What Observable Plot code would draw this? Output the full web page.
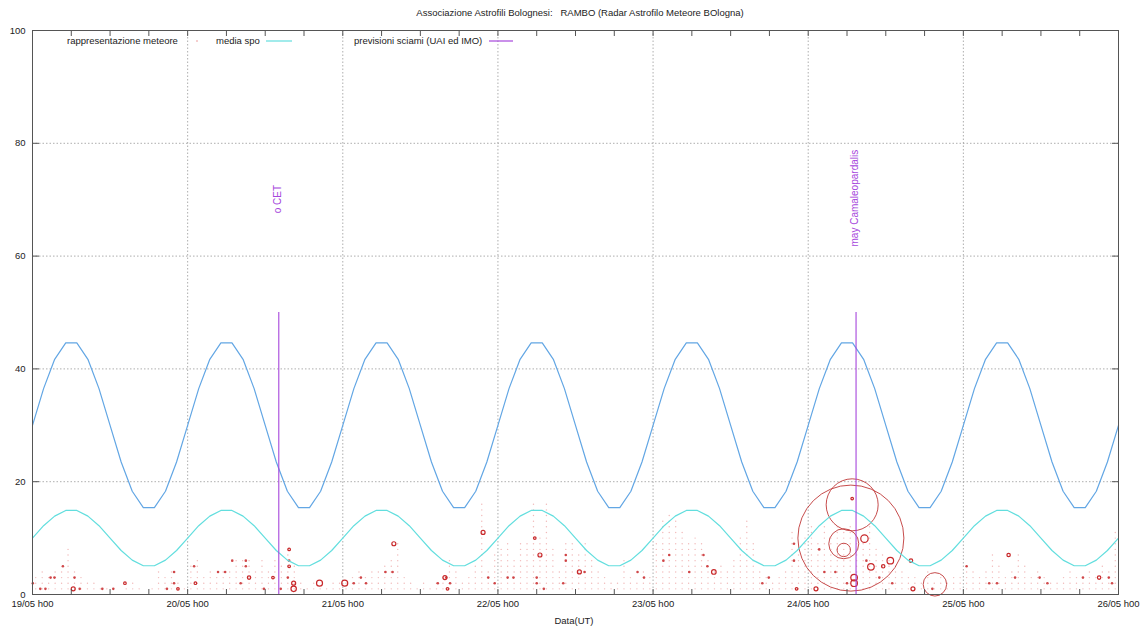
<!DOCTYPE html>
<html><head><meta charset="utf-8">
<script src="https://cdn.jsdelivr.net/npm/d3@7"></script>
<script src="https://cdn.jsdelivr.net/npm/@observablehq/plot@0.6"></script>
<style>body{margin:0;background:#fff;} svg{display:block;}</style>
</head><body><div id="chart"></div>
<script>
// ---------- DATA ----------
const title = "Associazione Astrofili Bolognesi:   RAMBO (Radar Astrofilo Meteore BOlogna)";
const xLabel = "Data(UT)";
const dayLabels = ["19/05 h00","20/05 h00","21/05 h00","22/05 h00","23/05 h00","24/05 h00","25/05 h00","26/05 h00"];
const yTicks = [0, 20, 40, 60, 80, 100];
const gridYValues = [20, 40, 60, 80];
const legendLabels = ["rappresentazione meteore", "media spo", "previsioni sciami (UAI ed IMO)"];

// daily profile sampled 14 times per day (hours from 00 UT)
const profileSamplesPerDay = 14;
const mediaSpoProfile = [10, 12.2, 13.9, 14.9, 14.9, 13.9, 12.2, 10, 7.8, 6.1, 5.1, 5.1, 6.1, 7.8];
const upperProfile   = [30, 36.5, 41.7, 44.6, 44.6, 41.7, 36.5, 30, 23.5, 18.3, 15.4, 15.4, 18.3, 23.5];

// shower predictions (hours since 19/05 h00)
const showerNames = ["o CET", "may Camaleopardalis"];
const showerHours = [38.1, 127.4];
const showerTop = [50, 50];
const showerLabelY = [67.6, 61.7];

// meteors per hour (hours 0..167 since 19/05 h00)
const hourlyCounts = [
  3,4,3,4,4,8,4,3,2,2,1,1,1,0,1,2,1,0,1,4,3,4,2,1,
  5,6,3,4,3,4,4,6,6,6,4,6,4,6,5,8,5,2,1,2,1,1,2,2,
  2,3,4,3,4,4,5,6,9,3,2,1,2,1,2,3,6,4,2,3,5,16,4,7,
  8,9,6,9,9,16,10,16,8,4,9,9,7,9,6,4,3,2,2,6,3,2,4,3,
  9,13,14,13,11,9,10,9,6,4,5,4,6,10,13,9,4,3,2,3,4,11,8,10,
  12,9,12,10,12,11,12,10,9,12,8,7,6,5,4,3,3,2,4,2,3,2,3,3,
  5,4,3,4,7,5,3,4,7,5,3,4,3,2,2,3,4,3,2,4,3,5,4,11
];

// brighter meteors [hour, level]
const brightH = [0.05,1.2,2,2.8,3.4,4.7,6.5,7.3,10.8,12.5,20.8,21.9,21.9,25,28.7,29.8,30.9,33,33,32.2,35.8,38.4,39.5,39.7,
  49.7,50.8,51.6,54.6,55.7,62.7,64,64.6,70.5,71.5,73.5,74.4,78,78,79.1,82.1,82.5,82.5,85.4,93.6,94.6,97.6,98.5,101.6,103.8,104.4,
  112.9,113.9,117.8,117.8,121.7,122.5,124.2,126,129,131,133,139.2,144.5,148,149.2,152,155.8,157,162.5,166.5,167];
const brightV = [2,1,1,3,3,5,3,1,1,1,1,4,2,5,4,4,6,6,5,2,1,1,3,6,
  2,3,2,4,4,2,3,2,3,2,3,3,3,2,1,2,7,6,4,4,3,6,7,4,7,5,
  2,3,9,6,8,4,4,2,6,3,2,1,5,2,2,3,3,2,3,3,2];

// meteor echoes drawn as circles: hour, level, echo size
const echoH = [126.6,126.8,125.5,125.5,128.7,132.7,129.7,131.6,135.9,127.1,127.1,139.6,121.2,118.2,136.2,126.8,151.0,165.0,
  6.3,14.3,22.5,25.2,33.5,37.2,39.7,39.7,40.4,40.4,44.4,48.3,55.9,63.8,64.2,69.7,77.7,78.5,84.6,105.4];
const echoV = [10.0,15.9,9.0,7.9,9.9,6,4.9,5,6,3,2,1.8,1,1,1,17,7,3,
  1,2,1,2,3,3,8,5,2,1,2,2,9,3,1,11,10,7,4,4];
const echoSize = [53,26,15,6.7,3.7,3.3,3.3,1.7,1.7,3.3,3.3,11.7,2,1.3,2,1.3,1.7,1.7,
  2,1.3,1.3,1.3,1.7,1.3,1.3,1.3,2,2.7,3,3,2,2,1.3,2,1.3,2,2,2.3];

// ---------- BUILD TABLES ----------
const stepH = 24 / profileSamplesPerDay;
const spo = [], upper = [];
for (let d = 0; d < 7; d++) {
  for (let k = 0; k < profileSamplesPerDay; k++) {
    spo.push({h: d * 24 + k * stepH, v: mediaSpoProfile[k]});
    upper.push({h: d * 24 + k * stepH, v: upperProfile[k]});
  }
}
spo.push({h: 168, v: mediaSpoProfile[0]});
upper.push({h: 168, v: upperProfile[0]});

const showers = showerNames.map((n, i) => ({name: n, h: showerHours[i], top: showerTop[i], ly: showerLabelY[i]}));
const faint = [];
hourlyCounts.forEach((c, h) => { for (let j = 1; j <= c; j++) faint.push({h: h + 0.5, v: j}); });
const bright = brightH.map((h, i) => ({h, v: brightV[i]}));
const echoes = echoH.map((h, i) => ({h, v: echoV[i], s: echoSize[i]}));
const echoSmall = echoes.filter(d => d.s < 5);
const echoLarge = echoes.filter(d => d.s >= 5);

const dayHours = dayLabels.map((_, i) => i * 24);
const sixHours = d3.range(0, 169, 6);

const blue = "#62a6e4", cyan = "#62dede", purple = "#a646dc", red = "#c8282a";
const font = "'Liberation Sans', Arial, sans-serif";

const plot = Plot.plot({
  width: 1140, height: 631,
  marginLeft: 32, marginRight: 22, marginTop: 30, marginBottom: 37,
  style: {fontFamily: font, fontSize: "9px", color: "#222", background: "white", overflow: "visible"},
  x: {domain: [0, 168]},
  y: {domain: [0, 100]},
  r: {type: "identity"},
  marks: [
    Plot.gridX(dayHours.slice(1, -1), {stroke: "#999", strokeOpacity: 1, strokeWidth: 0.8, strokeDasharray: "1.5,2"}),
    Plot.gridY(gridYValues, {stroke: "#999", strokeOpacity: 1, strokeWidth: 0.8, strokeDasharray: "1.5,2"}),
    Plot.dot(faint, {x: "h", y: "v", r: 0.7, fill: "#dc5050", fillOpacity: 0.4, stroke: "none"}),
    Plot.dot(bright, {x: "h", y: "v", r: 1.3, fill: red, fillOpacity: 0.85, stroke: "none"}),
    Plot.dot(echoSmall, {x: "h", y: "v", r: "s", stroke: red, strokeWidth: 1.2, fill: "none"}),
    Plot.dot(echoLarge, {x: "h", y: "v", r: "s", stroke: "#c03838", strokeWidth: 0.9, fill: "none"}),
    Plot.line(upper, {x: "h", y: "v", stroke: blue, strokeWidth: 1.2}),
    Plot.line(spo, {x: "h", y: "v", stroke: cyan, strokeWidth: 1.2}),
    Plot.ruleX(showers, {x: "h", y1: 0, y2: "top", stroke: purple, strokeWidth: 1.1}),
    Plot.text(showers, {x: "h", y: "ly", text: "name", rotate: -90, textAnchor: "start", fill: purple, fontSize: 10, dx: -1}),
    Plot.frame({stroke: "#555", strokeWidth: 1}),
    Plot.axisX(sixHours, {anchor: "bottom", tickSize: -5, tickFormat: () => "", label: null, stroke: "#555"}),
    Plot.axisX(sixHours, {anchor: "top", tickSize: -5, tickFormat: () => "", label: null, stroke: "#555"}),
    Plot.axisX(dayHours, {anchor: "bottom", tickSize: 0, tickPadding: 6, tickFormat: (h) => dayLabels[h / 24], label: null, fontSize: 9.5}),
    Plot.axisY(yTicks, {anchor: "left", tickSize: -7, tickFormat: () => "", label: null, stroke: "#555"}),
    Plot.axisY(yTicks, {anchor: "right", tickSize: -7, tickFormat: () => "", label: null, stroke: "#555"}),
    Plot.axisY(yTicks, {anchor: "left", tickSize: 0, tickPadding: 7, label: null, fontSize: 9.5})
  ]
});

const svg = d3.select(plot);
const g = svg.append("g").attr("font-family", font).attr("font-size", 9.5).attr("fill", "#222").attr("text-anchor", "start");
g.append("text").attr("x", 580).attr("y", 13).attr("text-anchor", "middle").attr("dominant-baseline", "middle").text(title);
g.append("text").attr("x", 574).attr("y", 621).attr("text-anchor", "middle").attr("dominant-baseline", "middle").text(xLabel);
// legend
g.append("text").attr("x", 67).attr("y", 41).attr("text-anchor", "start").attr("dominant-baseline", "middle").text(legendLabels[0]);
g.append("circle").attr("cx", 197).attr("cy", 41).attr("r", 0.8).attr("fill", "#d84848").attr("fill-opacity", 0.6);
g.append("text").attr("x", 216).attr("y", 41).attr("text-anchor", "start").attr("dominant-baseline", "middle").text(legendLabels[1]);
g.append("line").attr("x1", 266).attr("x2", 292).attr("y1", 41).attr("y2", 41).attr("stroke", cyan).attr("stroke-width", 1.2);
g.append("text").attr("x", 354).attr("y", 41).attr("text-anchor", "start").attr("dominant-baseline", "middle").text(legendLabels[2]);
g.append("line").attr("x1", 489).attr("x2", 513).attr("y1", 41).attr("y2", 41).attr("stroke", purple).attr("stroke-width", 1.2);

document.getElementById("chart").appendChild(plot);
</script>
</body></html>
